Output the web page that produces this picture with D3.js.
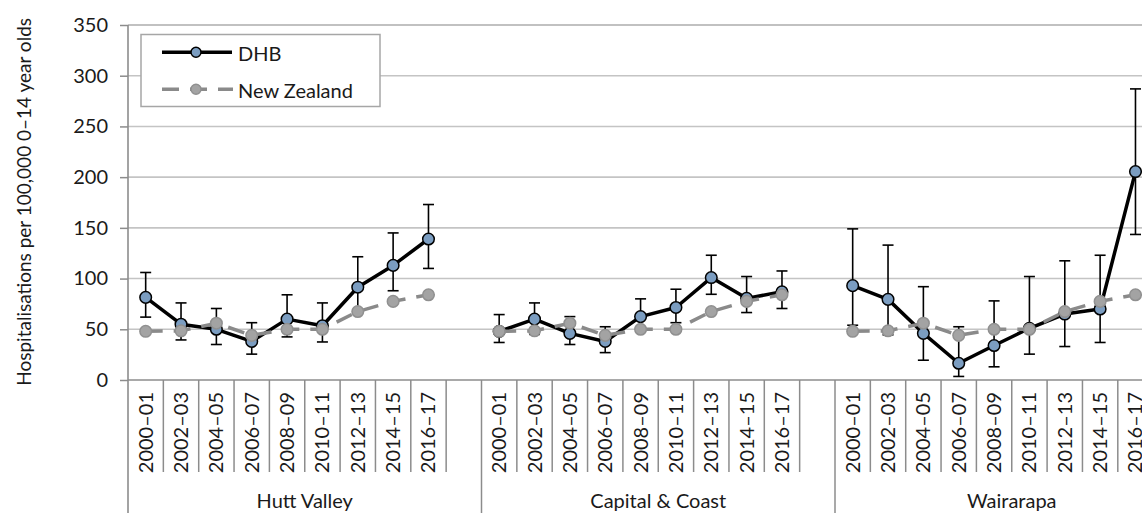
<!DOCTYPE html>
<html><head><meta charset="utf-8">
<script src="https://cdn.jsdelivr.net/npm/d3@7/dist/d3.min.js"></script>
<style>
html,body{margin:0;padding:0;background:#fff;overflow:hidden}
svg{display:block}
text{font-family:Lato,"Open Sans",sans-serif;fill:#1a1a1a}
</style></head>
<body>
<svg id="c" width="1142" height="513"></svg>
<script>
const groups = ["Hutt Valley", "Capital & Coast", "Wairarapa"];
const periods = ["2000–01","2002–03","2004–05","2006–07","2008–09","2010–11","2012–13","2014–15","2016–17"];
const yTicks = [0,50,100,150,200,250,300,350];
const seriesNames = ["DHB", "New Zealand"];

const nzRate = [48, 48.5, 56, 44, 50, 50, 67.5, 77.5, 84];

const huttRate  = [81.5, 55, 50, 38, 60, 53.5, 91.5, 113, 139];
const huttLow   = [62, 39.5, 35, 25.5, 42.5, 37.5, 67, 88, 110];
const huttHigh  = [106, 76, 70.5, 56.5, 84, 76, 121.5, 145, 173];

const ccRate    = [48, 60, 46, 38, 62.5, 71.5, 101, 80.5, 87];
const ccLow     = [37, 45, 35, 27, 48, 56.5, 84.5, 66.5, 70.5];
const ccHigh    = [64.5, 76, 62.5, 52.5, 80, 89.5, 123, 102, 107.5];

const waiRate   = [93, 79.5, 46, 16.5, 34, 51, 65, 70, 205.5];
const waiLow    = [54, 44.5, 19.5, 3.5, 13, 25.5, 33, 37, 143.5];
const waiHigh   = [149, 133, 92, 52.5, 78, 102, 117.5, 123, 287];

const dhbData = [
  {rate: huttRate, low: huttLow, high: huttHigh},
  {rate: ccRate, low: ccLow, high: ccHigh},
  {rate: waiRate, low: waiLow, high: waiHigh}
];

(function () {
const svg = d3.select("#c");
const mLeft = 128, mTop = 25, mBottom = 380;
const slotW = 35.35;

const slots = groups.flatMap(g => periods.map(p => g + "|" + p).concat([g + "|gap"]));
const x = d3.scaleBand().domain(slots).range([mLeft, mLeft + slots.length * slotW]).padding(0);
const y = d3.scaleLinear().domain([0, 350]).range([mBottom, mTop]);
const cx = (g, p) => x(g + "|" + p) + x.bandwidth() / 2;

// gridlines
svg.append("g").selectAll("line").data(yTicks.filter(t => t > 0)).join("line")
  .attr("x1", mLeft).attr("x2", 1142)
  .attr("y1", d => y(d)).attr("y2", d => y(d))
  .attr("stroke", d => d === 350 ? "#adadad" : "#c4c4c4").attr("stroke-width", 1.6);

// y axis
const yAxis = svg.append("g").attr("transform", `translate(${mLeft},0)`)
  .call(d3.axisLeft(y).tickValues(yTicks).tickSize(8).tickPadding(12));
yAxis.select(".domain").remove();
yAxis.selectAll(".tick line").attr("stroke", "#8c8c8c").attr("stroke-width", 1.5);
yAxis.selectAll(".tick text").style("font-size", "20px").style("font-family", "Lato").attr("fill", "#1a1a1a");
svg.append("line").attr("x1", mLeft).attr("x2", mLeft).attr("y1", mTop).attr("y2", 513)
  .attr("stroke", "#8c8c8c").attr("stroke-width", 1.6);

// x axis baseline
svg.append("line").attr("x1", mLeft).attr("x2", 1142).attr("y1", mBottom).attr("y2", mBottom)
  .attr("stroke", "#8c8c8c").attr("stroke-width", 1.6);

// slot separators
const bounds = slots.map(s => x(s)).concat([x.range()[1]]);
svg.append("g").selectAll("line").data(bounds.slice(1)).join("line")
  .attr("x1", d => d).attr("x2", d => d)
  .attr("y1", mBottom)
  .attr("y2", (d, i) => ((i + 1) % 10 === 0) ? 513 : 472)
  .attr("stroke", "#8c8c8c").attr("stroke-width", 1.5);

// period labels
groups.forEach(g => {
  svg.append("g").selectAll("text").data(periods).join("text")
    .attr("transform", p => `translate(${cx(g, p)},392) rotate(-90)`)
    .attr("text-anchor", "end").attr("dy", "0.35em")
    .style("font-size", "20px").text(p => p);
  const gx0 = x(g + "|" + periods[0]), gx1 = x(g + "|gap") + x.bandwidth();
  svg.append("text").attr("x", (gx0 + gx1) / 2).attr("y", 508)
    .attr("text-anchor", "middle").style("font-size", "20px").text(g);
});

// y axis title
svg.append("text").attr("transform", "translate(31,18) rotate(-90)")
  .attr("text-anchor", "end").style("font-size", "19px")
  .text("Hospitalisations per 100,000 0–14 year olds");

const line = d3.line().x(d => d.x).y(d => d.y);

// DHB series
groups.forEach((g, gi) => {
  const d = dhbData[gi];
  const pts = periods.map((p, i) => ({x: cx(g, p), y: y(d.rate[i]), lo: y(d.low[i]), hi: y(d.high[i])}));
  const eb = svg.append("g").attr("stroke", "#000").attr("stroke-width", 1.6);
  pts.forEach(pt => {
    eb.append("line").attr("x1", pt.x).attr("x2", pt.x).attr("y1", pt.lo).attr("y2", pt.hi);
    eb.append("line").attr("x1", pt.x - 5.5).attr("x2", pt.x + 5.5).attr("y1", pt.lo).attr("y2", pt.lo);
    eb.append("line").attr("x1", pt.x - 5.5).attr("x2", pt.x + 5.5).attr("y1", pt.hi).attr("y2", pt.hi);
  });
  svg.append("path").datum(pts).attr("d", line).attr("fill", "none")
    .attr("stroke", "#000").attr("stroke-width", 3.5).attr("stroke-linejoin", "round");
  svg.append("g").selectAll("circle").data(pts).join("circle")
    .attr("cx", p => p.x).attr("cy", p => p.y).attr("r", 5.8)
    .attr("fill", "#7b9dc1").attr("stroke", "#000").attr("stroke-width", 1.5);
});

// NZ series
groups.forEach(g => {
  const pts = periods.map((p, i) => ({x: cx(g, p), y: y(nzRate[i])}));
  svg.append("path").datum(pts).attr("d", line).attr("fill", "none")
    .attr("stroke", "#8a8a8a").attr("stroke-width", 3.5).attr("stroke-dasharray", "17,11");
  svg.append("g").selectAll("circle").data(pts).join("circle")
    .attr("cx", p => p.x).attr("cy", p => p.y).attr("r", 5.8)
    .attr("fill", "#a3a3a3").attr("stroke", "#909090").attr("stroke-width", 1.5);
});

// legend
const lg = svg.append("g");
lg.append("rect").attr("x", 141).attr("y", 34.5).attr("width", 239).attr("height", 72)
  .attr("fill", "#fff").attr("stroke", "#a6a6a6").attr("stroke-width", 1.5);
const lgY = [52.3, 89.3];
lg.append("line").attr("x1", 162).attr("x2", 232).attr("y1", lgY[0]).attr("y2", lgY[0])
  .attr("stroke", "#000").attr("stroke-width", 3.5);
lg.append("circle").attr("cx", 196).attr("cy", lgY[0]).attr("r", 5)
  .attr("fill", "#7b9dc1").attr("stroke", "#000").attr("stroke-width", 1.5);
lg.append("line").attr("x1", 162).attr("x2", 233).attr("y1", lgY[1]).attr("y2", lgY[1])
  .attr("stroke", "#8a8a8a").attr("stroke-width", 3.5).attr("stroke-dasharray", "17,11");
lg.append("circle").attr("cx", 196).attr("cy", lgY[1]).attr("r", 5)
  .attr("fill", "#a3a3a3").attr("stroke", "#909090").attr("stroke-width", 1.5);
lg.selectAll("text.lt").data(seriesNames).join("text").attr("class", "lt")
  .attr("x", 238).attr("y", (d, i) => lgY[i] + 8.5)
  .style("font-size", "20px").text(d => d);
})();
</script>
</body></html>
